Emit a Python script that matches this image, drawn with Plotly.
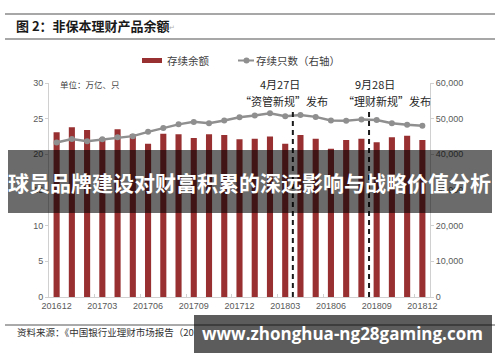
import plotly.graph_objects as go

# ---------------- data ----------------
months = ["201612", "201701", "201702", "201703", "201704", "201705", "201706",
          "201707", "201708", "201709", "201710", "201711", "201712",
          "201801", "201802", "201803", "201804", "201805", "201806",
          "201807", "201808", "201809", "201810", "201811", "201812"]
balance = [23.1, 23.8, 23.4, 22.3, 23.5, 22.8, 21.5, 22.9, 22.8, 22.3, 22.8, 22.7, 22.1,
           22.2, 22.5, 21.5, 22.7, 22.2, 20.8, 22.0, 22.2, 21.7, 22.4, 22.6, 22.0]
counts = [43300, 44300, 43700, 44200, 44800, 45100, 46300, 47400, 48400, 49100, 48700, 49500, 50400,
          50900, 51500, 50700, 51000, 50500, 49500, 49400, 49800, 49600, 48700, 48300, 48000]
bar_name = "存续余额"
line_name = "存续只数（右轴）"
events = [("201803", "4月27日", "“资管新规”发布"), ("201808", "9月28日", "“理财新规”发布")]

# ---------------- geometry helpers ----------------
W, H = 500, 362
L, R, T, B = 49, 70, 83, 65
pw, ph = W - L - R, H - T - B


def px(x):
    return (x - L) / pw


def py(y):
    return (H - B - y) / ph


BAR = "#983032"
LINE = "#8f8f8f"
TICK = "#595959"
AX = "#d0d0d0"
CJK = "Noto Sans CJK SC"

fig = go.Figure()
fig.add_trace(go.Bar(x=months, y=balance, name=bar_name, marker_color=BAR,
                     marker_line_width=0, yaxis="y"))
fig.add_trace(go.Scatter(x=months, y=counts, name=line_name, mode="lines+markers",
                         line=dict(color=LINE, width=2.5),
                         marker=dict(color=LINE, size=6), yaxis="y2"))

shapes = []
annos = []


def text(t, x, y, size, color="#262626", anchor="left", family=CJK):
    annos.append(dict(text=t, x=px(x), y=py(y), xref="paper", yref="paper",
                      xanchor=anchor, yanchor="middle", showarrow=False,
                      font=dict(family=family, size=size, color=color)))


# header lines and title
for yy in (14, 39):
    shapes.append(dict(type="line", xref="paper", yref="paper", x0=px(5), x1=px(495),
                       y0=py(yy), y1=py(yy), line=dict(color="#8a8a8a", width=1.5)))
text("<b>图 2：非保本理财产品余额</b>", 14, 26, 13, "#1a1a1a")
text("↵", 167, 28, 7, "#b0b0b0", family="DejaVu Sans")

# manual legend
shapes.append(dict(type="rect", xref="paper", yref="paper", x0=px(142), x1=px(162),
                   y0=py(63), y1=py(58), fillcolor=BAR, line_width=0))
text(bar_name, 165, 60.5, 10.5, "#404040")
shapes.append(dict(type="line", xref="paper", yref="paper", x0=px(238), x1=px(254),
                   y0=py(60.5), y1=py(60.5), line=dict(color=LINE, width=2)))
shapes.append(dict(type="circle", xref="paper", yref="paper", x0=px(243.5), x1=px(249.5),
                   y0=py(63.5), y1=py(57.5), fillcolor=LINE, line_width=0))
text(line_name, 254, 60.5, 10.5, "#404040")

# unit label
text("单位：万亿、只", 58, 84, 8.5, "#404040")

# event markers
event_pos = [(280, 284), (375, 387)]
for (cat, d, t), (dx, tx) in zip(events, event_pos):
    xpos = months.index(cat) + 0.5
    shapes.append(dict(type="line", xref="x", yref="y", x0=xpos, x1=xpos, y0=0, y1=26,
                       line=dict(color="#1a1a1a", width=2, dash="5px,4px")))
    text(d, dx, 84, 11, anchor="center")
    text(t, tx, 101, 11, anchor="center")

# source line
shapes.append(dict(type="line", xref="paper", yref="paper", x0=px(5), x1=px(495),
                   y0=py(325), y1=py(325), line=dict(color="#555555", width=1)))
text("资料来源：《中国银行业理财市场报告（20", 15, 332, 9.5, "#333333")

# dark overlay band with headline
shapes.append(dict(type="rect", xref="paper", yref="paper", x0=px(8), x1=px(492),
                   y0=py(213), y1=py(150), fillcolor="rgba(0,0,0,0.58)", line_width=0,
                   layer="above"))
text("<b>球员品牌建设对财富积累的深远影响与战略价值分析</b>", 249, 182, 21, "#ffffff", anchor="center")

# bottom watermark box
shapes.append(dict(type="rect", xref="paper", yref="paper", x0=px(194), x1=px(492),
                   y0=py(353), y1=py(315), fillcolor="rgba(0,0,0,0.64)", line_width=0,
                   layer="above"))
text("<b>www.zhonghua-ng28gaming.com</b>", 342, 333, 17, "#ffffff", anchor="center",
     family="Open Sans")

fig.update_layout(
    width=W, height=H,
    margin=dict(l=L, r=R, t=T, b=B, pad=0, autoexpand=False),
    paper_bgcolor="white", plot_bgcolor="white",
    showlegend=False, bargap=0.6,
    shapes=shapes, annotations=annos,
    font=dict(family="Liberation Sans", size=9, color=TICK),
    xaxis=dict(type="category", range=[-0.5, len(months) - 0.5], dtick=3, tickangle=0,
               tickson="boundaries", ticks="inside", ticklen=3, tickcolor=AX,
               showline=True, linecolor=AX, linewidth=1, showgrid=False, automargin=False,
               tickfont=dict(size=9, color=TICK)),
    yaxis=dict(range=[0, 30], dtick=5, ticks="outside", ticklen=3, tickcolor=AX,
               showline=True, linecolor=AX, linewidth=1, showgrid=False, zeroline=False,
               automargin=False, tickfont=dict(size=9, color=TICK)),
    yaxis2=dict(range=[0, 60000], dtick=10000, overlaying="y", side="right",
                tickformat=",", ticks="outside", ticklen=3, tickcolor=AX,
                showline=True, linecolor=AX, linewidth=1, showgrid=False, zeroline=False,
                automargin=False, tickfont=dict(size=9, color=TICK)),
)

fig.write_html("out.html", config={"displayModeBar": False},
               post_script="document.body.style.margin='0';")
